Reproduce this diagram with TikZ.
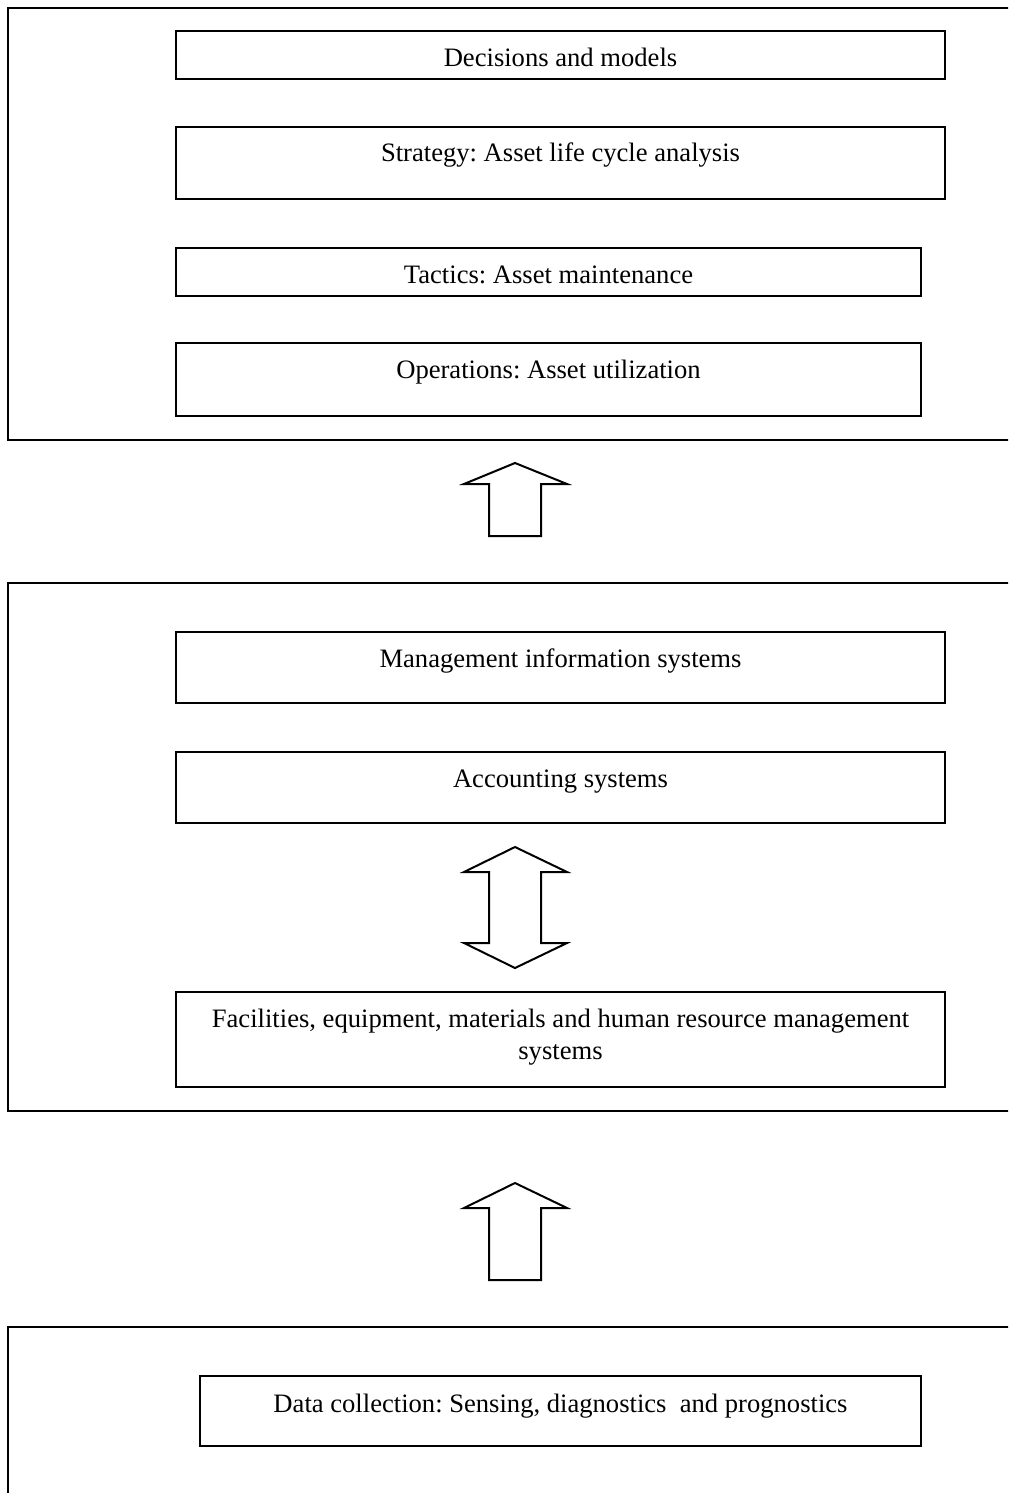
\documentclass[tikz,border=0pt]{standalone}
\usepackage{fontspec}
\setmainfont{Liberation Serif}
\frenchspacing
\begin{document}
\begin{tikzpicture}[x=0.5pt,y=-0.5pt,
  box/.style={draw, line width=1pt, inner sep=0pt, outer sep=0pt},
  lbl/.style={font=\fontsize{13.3}{16}\selectfont\frenchspacing, inner sep=0pt, anchor=base},
  blockarrow/.style={draw, line width=1pt, line join=miter}]
\useasboundingbox (0,0) rectangle (1008,1493);
\clip (0,0) rectangle (1008,1493);
\fill[white] (0,0) rectangle (1008,1493);

% outer frames
\node[box, minimum width=504pt, minimum height=216pt] (frameA) at (512,224) {};
\node[box, minimum width=504pt, minimum height=264pt] (frameB) at (512,847) {};
\node[box, minimum width=504pt, minimum height=86.5pt] (frameC) at (512,1413.5) {};

% top group
\node[box, minimum width=384.5pt, minimum height=24pt] (dec) at (560.5,55) {};
\node[lbl] (decT) at (560.5,66.5) {Decisions and models};
\node[box, minimum width=384.5pt, minimum height=36pt] (strat) at (560.5,163) {};
\node[lbl] (stratT) at (560.5,162) {Strategy: Asset life cycle analysis};
\node[box, minimum width=372.5pt, minimum height=24pt] (tact) at (548.5,272) {};
\node[lbl] (tactT) at (548.5,283) {Tactics: Asset maintenance};
\node[box, minimum width=372.5pt, minimum height=36.5pt] (oper) at (548.5,379.5) {};
\node[lbl] (operT) at (548.5,378) {Operations: Asset utilization};

% middle group
\node[box, minimum width=384.5pt, minimum height=35.5pt] (mis) at (560.5,667.5) {};
\node[lbl] (misT) at (560.5,667) {Management information systems};
\node[box, minimum width=384.5pt, minimum height=35.5pt] (acc) at (560.5,787.5) {};
\node[lbl] (accT) at (560.5,787) {Accounting systems};
\node[box, minimum width=384.5pt, minimum height=47.5pt] (fac) at (560.5,1039.5) {};
\node[font=\fontsize{13.3}{16}\selectfont\frenchspacing, inner sep=0pt, align=center] (facT) at (560.5,1036.8)
  {Facilities, equipment, materials and human resource management\\systems};

% bottom group
\node[box, minimum width=360.5pt, minimum height=35pt] (data) at (560.5,1411) {};
\node[lbl] (dataT) at (560.5,1412) {Data collection: Sensing, diagnostics\ \ and prognostics};

% block arrows
\draw[blockarrow] (515,463) -- (567,484) -- (541,484) -- (541,536) -- (489,536) -- (489,484) -- (464,484) -- cycle;
\draw[blockarrow] (515,847) -- (567,872) -- (541,872) -- (541,943) -- (567,943) -- (515,968)
  -- (464,943) -- (489,943) -- (489,872) -- (464,872) -- cycle;
\draw[blockarrow] (515,1183) -- (567,1208) -- (541,1208) -- (541,1280) -- (489,1280) -- (489,1208) -- (464,1208) -- cycle;
\end{tikzpicture}
\end{document}
